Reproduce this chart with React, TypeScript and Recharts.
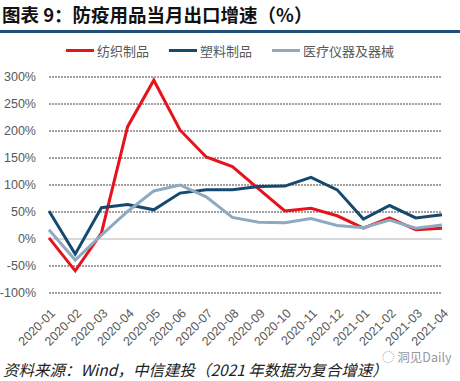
import React from 'react';
import { LineChart, Line, XAxis, YAxis, CartesianGrid, ReferenceLine } from 'recharts';

const months = [
  '2020-01', '2020-02', '2020-03', '2020-04', '2020-05', '2020-06', '2020-07', '2020-08',
  '2020-09', '2020-10', '2020-11', '2020-12', '2021-01', '2021-02', '2021-03', '2021-04',
];
const textile = [2, -59, 11, 208, 294, 202, 152, 134, 93, 52, 57, 43, 20, 39, 17, 20];
const plastic = [52, -28, 58, 64, 54, 85, 91, 91, 97, 98, 114, 91, 37, 62, 39, 45];
const medical = [17, -39, 7, 51, 89, 100, 78, 40, 31, 30, 38, 25, 21, 35, 20, 26];
const yTicks = [-100, -50, 0, 50, 100, 150, 200, 250, 300];

const series = [
  { key: 'textile', name: '纺织制品', color: '#e8121b' },
  { key: 'plastic', name: '塑料制品', color: '#17496e' },
  { key: 'medical', name: '医疗仪器及器械', color: '#8eaac0' },
];

const data = months.map((m, i) => ({
  month: m,
  textile: textile[i],
  plastic: plastic[i],
  medical: medical[i],
}));

const font = '"Noto Sans CJK SC", "Noto Sans", sans-serif';
const numFont = '"Liberation Sans", Arial, sans-serif';

// 斜着的月份标签
const MonthTick = (props: any) => {
  const { x, y, payload } = props;
  return (
    <g transform={`translate(${x + 7},${y + 13})`}>
      <text transform="rotate(-45)" textAnchor="end" fontSize={12.5} fill="#595959" fontFamily={numFont}>
        {payload.value}
      </text>
    </g>
  );
};

export default function App() {
  return (
    <div style={{ position: 'absolute', left: 0, top: 0, width: 460, height: 381, background: '#fff', fontFamily: font }}>
      <div style={{ position: 'absolute', left: 2, top: 1, fontSize: 18.5, fontWeight: 'bold', color: '#111', whiteSpace: 'nowrap' }}>
        图表 9：防疫用品当月出口增速（%）
      </div>
      <div style={{ position: 'absolute', left: 0, top: 30, width: 460, height: 3, background: '#1f4e79' }} />

      {/* 图例 */}
      <div style={{ position: 'absolute', left: 0, top: 41, width: 460, display: 'flex', justifyContent: 'center', fontSize: 13, color: '#595959' }}>
        {series.map((s) => (
          <div key={s.key} style={{ display: 'flex', alignItems: 'center', margin: '0 10px' }}>
            <span style={{ display: 'inline-block', width: 28, height: 3, background: s.color, marginRight: 3 }} />
            {s.name}
          </div>
        ))}
      </div>

      <LineChart width={460} height={381} data={data} margin={{ top: 77, right: 18, bottom: 28, left: 0 }}>
        <CartesianGrid vertical={false} stroke="#444" strokeDasharray="2 1" />
        <XAxis
          dataKey="month"
          interval={0}
          axisLine={false}
          tickLine={false}
          height={60}
          tick={<MonthTick />}
        />
        <YAxis
          domain={[-100, 300]}
          ticks={yTicks}
          width={49}
          axisLine={false}
          tickLine={false}
          tickSize={0}
          tickMargin={13}
          tickFormatter={(v: number) => `${v}%`}
          tick={{ fontSize: 12.5, fill: '#595959', fontFamily: numFont }}
        />
        <ReferenceLine y={0} stroke="#d9d9d9" strokeWidth={2} />
        {series.map((s) => (
          <Line
            key={s.key}
            type="linear"
            dataKey={s.key}
            name={s.name}
            stroke={s.color}
            strokeWidth={3}
            dot={false}
            isAnimationActive={false}
          />
        ))}
      </LineChart>

      <div style={{ position: 'absolute', left: 3, top: 358, fontSize: 15.5, fontStyle: 'italic', color: '#222', whiteSpace: 'nowrap' }}>
        资料来源：Wind，中信建投（2021 年数据为复合增速）
      </div>
      <div style={{ position: 'absolute', left: 382, top: 347, fontSize: 12.5, color: '#999', whiteSpace: 'nowrap' }}>
        ◌ 洞见Daily
      </div>
    </div>
  );
}
